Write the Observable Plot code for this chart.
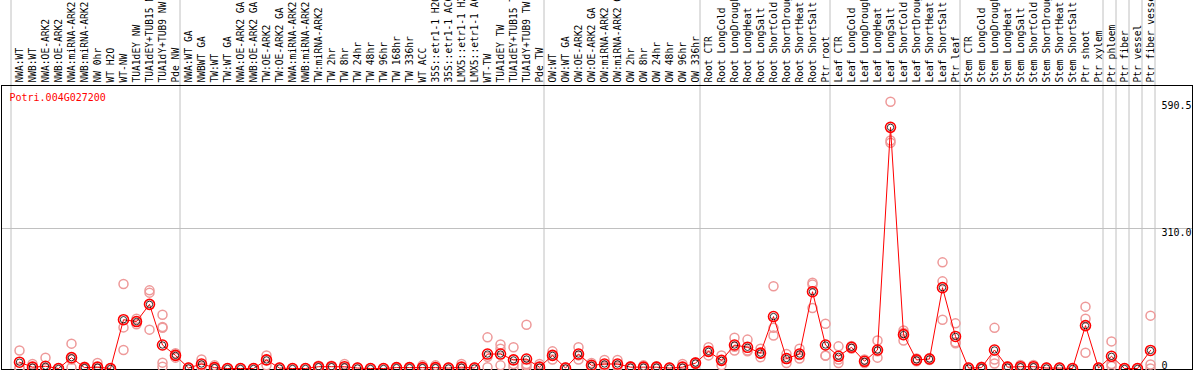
<!DOCTYPE html>
<html><head><meta charset="utf-8">
<script src="https://cdn.jsdelivr.net/npm/d3@7"></script>
<script src="https://cdn.jsdelivr.net/npm/@observablehq/plot@0.6"></script>
<style>body{margin:0;background:#fff}</style>
</head><body><div id="chart"></div>
<script>
const geneId = "Potri.004G027200";
const categories = [
  "NWA:WT","NWB:WT","NWA:OE-ARK2","NWB:OE-ARK2","NWA:miRNA-ARK2","NWB:miRNA-ARK2","NW 0hr","WT H2O","WT-NW","TUA1dEY NW","TUA1dEY+TUB15 NW","TUA1dY+TUB9 NW","Pde NW",
  "NWA:WT GA","NWBWT GA","TW:WT","TW:WT GA","NWA:OE-ARK2 GA","NWB:OE-ARK2 GA","TW:OE-ARK2","TW:OE-ARK2 GA","NWA:miRNA-ARK2 GA","NWB:miRNA-ARK2 GA","TW:miRNA-ARK2","TW 2hr","TW 8hr","TW 24hr","TW 48hr","TW 96hr","TW 168hr","TW 336hr","WT ACC","35S::etr1-1 H2O","35S::etr1-1 ACC","LMX5::etr1-1 H2O","LMX5::etr1-1 ACC","WT-TW","TUA1dEY TW","TUA1dEY+TUB15 TW","TUA1dY+TUB9 TW","Pde TW",
  "OW:WT","OW:WT GA","OW:OE-ARK2","OW:OE-ARK2 GA","OW:miRNA-ARK2","OW:miRNA-ARK2 GA","OW 2hr","OW 8hr","OW 24hr","OW 48hr","OW 96hr","OW 336hr",
  "Root CTR","Root LongCold","Root LongDrought","Root LongHeat","Root LongSalt","Root ShortCold","Root ShortDrought","Root ShortHeat","Root ShortSalt","Ptr root",
  "Leaf CTR","Leaf LongCold","Leaf LongDrought","Leaf LongHeat","Leaf LongSalt","Leaf ShortCold","Leaf ShortDrought","Leaf ShortHeat","Leaf ShortSalt","Ptr leaf",
  "Stem CTR","Stem LongCold","Stem LongDrought","Stem LongHeat","Stem LongSalt","Stem ShortCold","Stem ShortDrought","Stem ShortHeat","Stem ShortSalt","Ptr shoot",
  "Ptr xylem","Ptr phloem","Ptr fiber","Ptr vessel","Ptr fiber vessel"
];
const meanValues = [
  14,3,5,0,24,2,3,0,108,104,142,52,29,
  1,10,2,0,0,0,19,1,0,0,4,4,4,1,0,0,2,2,2,2,1,3,1,32,32,19,21,3,
  29,1,32,7,10,10,3,3,3,1,3,12,
  38,18,52,47,34,115,22,32,170,52,
  27,47,16,41,534,75,19,21,179,71,
  1,2,41,3,4,4,1,1,0,95,
  1,27,0,0,40
];
const replicates = [
  [40,3,0],[10,0,0],[24,0,0],[0,0,0],[55,20,2],[4,1,0],[12,0,0],[0,0,0],[187,91,41],[110,104,98],[173,168,86],[119,92,90,13,4],[34,29,24],
  [2,0,0],[20,7,3],[7,0,0],[0,0,0],[0,0,0],[0,0,0],[29,19,7],[2,0,0],[0,0,0],[0,0,0],[6,3,2],[6,3,2],[10,2,0],[2,1,0],[0,0,0],[0,0,0],[3,2,1],[3,2,1],[7,0,0],[7,0,0],[2,1,0],[10,0,0],[2,1,0],[69,26,3],[53,44,7],[47,10,3],[97,10,7,3],[10,0,0],
  [38,29,20],[3,0,0],[47,29,20],[12,5,3],[19,7,4],[19,7,4],[5,3,1],[7,2,1],[5,3,1],[2,1,0],[10,0,0],[14,12,10],
  [47,38,29],[29,18,7],[68,48,40],[64,40,38],[44,33,25],[182,90,73],[32,22,12],[44,30,22],[190,186,134],[99,29,28],
  [49,20,12],[50,47,44],[20,16,12],[62,38,24],[590.5,505,500],[84,79,62],[22,19,16],[23,21,19],[235,193,108],[100,58,56],
  [2,0,0],[4,1,0],[90,20,11],[5,3,1],[8,3,1],[8,3,1],[2,1,0],[2,1,0],[0,0,0],[137,110,35],
  [2,1,0],[60,10,5],[0,0,0],[0,0,0],[117,9,0]
];
const yTicks = [0, 310, 590.5];
const yTickLabels = ["0", "310.0", "590.5"];
const separatorsBefore = ["NWA:WT","NWA:WT GA","OW:WT","Root CTR","Leaf CTR","Stem CTR","Ptr phloem","Ptr fiber","Ptr vessel","Ptr fiber vessel"];
const separatorsAfter = ["Ptr fiber vessel"];

const means = categories.map((c, i) => ({category: c, value: meanValues[i]}));
const reps = categories.flatMap((c, i) => replicates[i].map(v => ({category: c, value: v})));

const chart = Plot.plot({
  width: 1194, height: 370,
  marginTop: 85, marginBottom: 1, marginLeft: 1, marginRight: 2,
  style: {fontFamily: "'DejaVu Sans Mono', monospace", fontSize: "10px", background: "#fff", color: "#000"},
  x: {type: "point", domain: categories, range: [19.3, 1150.3], padding: 0, axis: null},
  y: {type: "linear", domain: [0, 310], range: [368, 228], axis: null},
  marks: [
    Plot.ruleY([310], {stroke: "#c0c0c0"}),
    Plot.ruleX(separatorsBefore, {x: d => d, dx: -8.5, stroke: "#c0c0c0", insetTop: -85}),
    Plot.ruleX(separatorsAfter, {x: d => d, dx: 4.5, stroke: "#c0c0c0", insetTop: -85}),
    Plot.axisX({anchor: "top", tickRotate: -90, tickSize: 0, tickPadding: 3, fontSize: 9.6, fill: "#000", label: null}),
    Plot.frame({stroke: "#000"}),
    Plot.dot(reps, {x: "category", y: "value", r: 4.5, stroke: "#ee9999", strokeWidth: 1.5}),
    Plot.line(means, {x: "category", y: "value", stroke: "#ff0000", strokeWidth: 1}),
    Plot.dot(means, {x: "category", y: "value", r: 5, stroke: "#ff0000", strokeWidth: 1.6}),
    Plot.dot(means, {x: "category", y: "value", r: 3.2, stroke: "#000", strokeWidth: 0.8}),
    Plot.text([geneId], {frameAnchor: "top-left", dx: 8, dy: 8, fill: "#ff0000", textAnchor: "start", lineAnchor: "top", fontSize: 10}),
    Plot.text(yTicks, {filter: d => d > 0, y: d => d, text: (d, i) => yTickLabels[i], frameAnchor: "right", dx: -31, textAnchor: "start", lineAnchor: "top", fontSize: 10}),
    Plot.text(yTicks, {filter: d => d === 0, y: d => d, text: (d, i) => yTickLabels[i], frameAnchor: "right", dx: -31, textAnchor: "start", lineAnchor: "bottom", fontSize: 10})
  ]
});
document.getElementById("chart").appendChild(chart);
</script>
</body></html>
